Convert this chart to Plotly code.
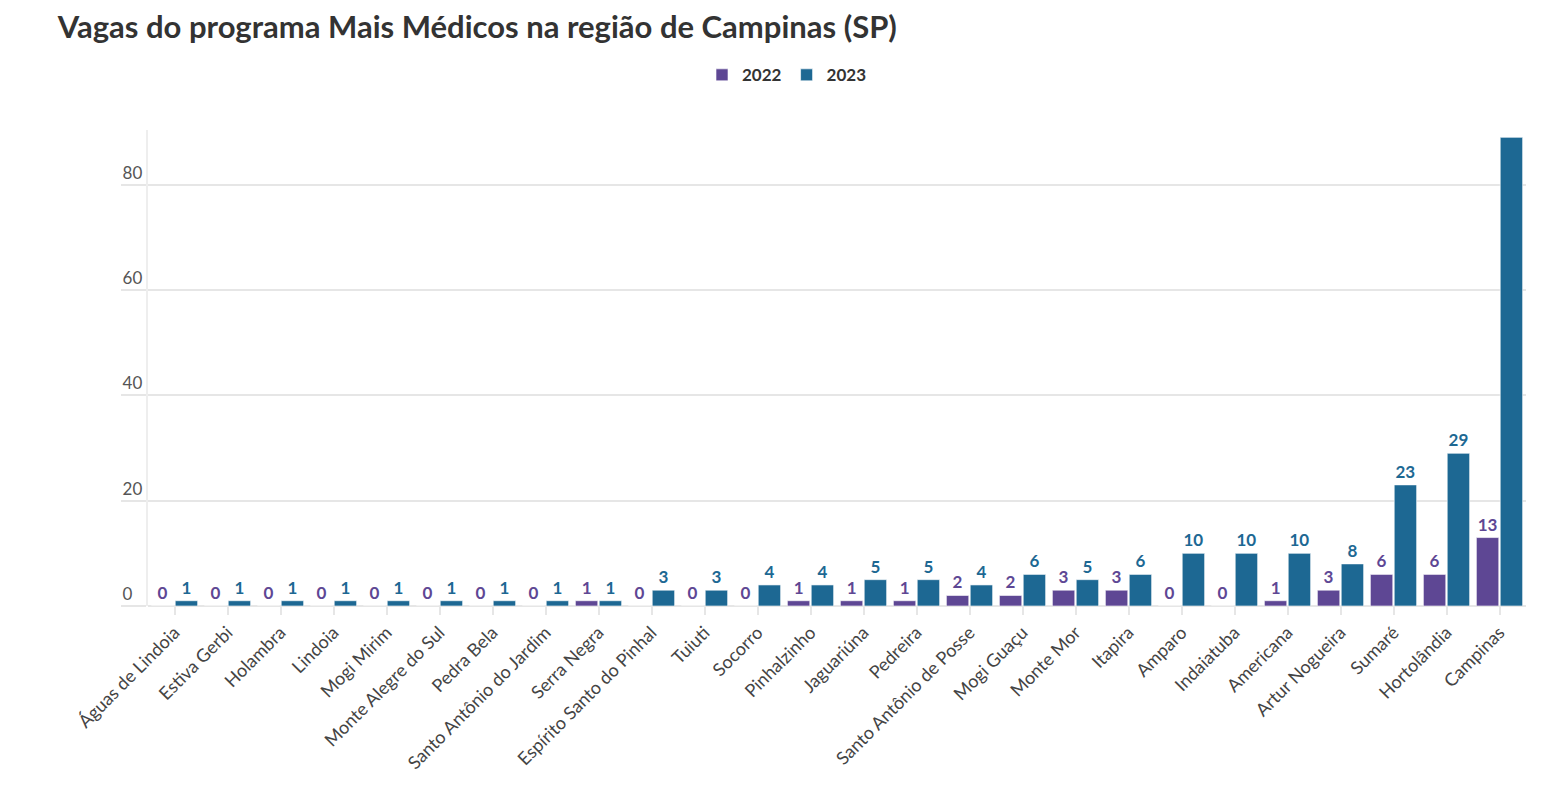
import plotly.graph_objects as go

# Vagas do Mais Médicos por município, 2022 x 2023
cidades = ['Águas de Lindoia', 'Estiva Gerbi', 'Holambra', 'Lindoia', 'Mogi Mirim',
           'Monte Alegre do Sul', 'Pedra Bela', 'Santo Antônio do Jardim', 'Serra Negra',
           'Espírito Santo do Pinhal', 'Tuiuti', 'Socorro', 'Pinhalzinho', 'Jaguariúna',
           'Pedreira', 'Santo Antônio de Posse', 'Mogi Guaçu', 'Monte Mor', 'Itapira',
           'Amparo', 'Indaiatuba', 'Americana', 'Artur Nogueira', 'Sumaré',
           'Hortolândia', 'Campinas']
vagas_2022 = [0, 0, 0, 0, 0, 0, 0, 0, 1, 0, 0, 0, 1, 1, 1, 2, 2, 3, 3, 0, 0, 1, 3, 6, 6, 13]
vagas_2023 = [1, 1, 1, 1, 1, 1, 1, 1, 1, 3, 3, 4, 4, 5, 5, 4, 6, 5, 6, 10, 10, 10, 8, 23, 29, 89]
y_ticks = [0, 20, 40, 60, 80]

roxo = '#5e4794'
azul = '#1d6893'
fonte = 'Lato, Open Sans, sans-serif'
y_max = 90.4

fig = go.Figure()
for nome, valores, cor in [('2022', vagas_2022, roxo), ('2023', vagas_2023, azul)]:
    # rótulo que não cabe acima da barra fica escondido
    cores_txt = [cor if v < y_max - 4 else 'rgba(0,0,0,0)' for v in valores]
    fig.add_trace(go.Bar(
        x=cidades, y=valores, name=nome,
        marker=dict(color=cor, line=dict(color='rgba(255,255,255,0.6)', width=1)),
        text=valores, textposition='outside', cliponaxis=True,
        textfont=dict(family=fonte, size=17, color=cores_txt, weight='bold'),
    ))

fig.update_layout(
    width=1558, height=801,
    barmode='group', bargap=0.1, bargroupgap=0.06,
    plot_bgcolor='white', paper_bgcolor='white',
    font=dict(family=fonte, color='#444'),
    margin=dict(l=140, r=40, t=122, b=203),
    title=dict(text='<b>Vagas do programa Mais Médicos na região de Campinas (SP)</b>',
               x=0.032, xanchor='left', y=0.976, yanchor='middle',
               font=dict(size=31, color='#333')),
    legend=dict(orientation='h', xref='container', x=0.5, xanchor='center',
                yref='container', y=0.916, yanchor='middle',
                font=dict(size=17, color='#333', weight='bold'),
                itemwidth=30, traceorder='normal'),
)
fig.update_xaxes(
    tickangle=-45, tickfont=dict(size=18, color='#444'),
    ticks='outside', ticklen=8, tickcolor='#e6e6e6', tickwidth=2,
    showgrid=False, showline=False, range=[-0.5, len(cidades) - 0.5],
)
fig.update_yaxes(
    range=[0, y_max], tickvals=y_ticks,
    showgrid=True, gridcolor='#e6e6e6', gridwidth=2,
    zeroline=True, zerolinecolor='#e6e6e6', zerolinewidth=2,
    showline=True, linecolor='#eeeeee', linewidth=2,
    ticks='outside', ticklen=25, tickcolor='#e6e6e6', tickwidth=2,
    ticklabelposition='inside', ticklabelstandoff=-25, ticklabelshift=-12,
    tickfont=dict(size=17, color='#555'),
)

fig.write_html('out.html')
